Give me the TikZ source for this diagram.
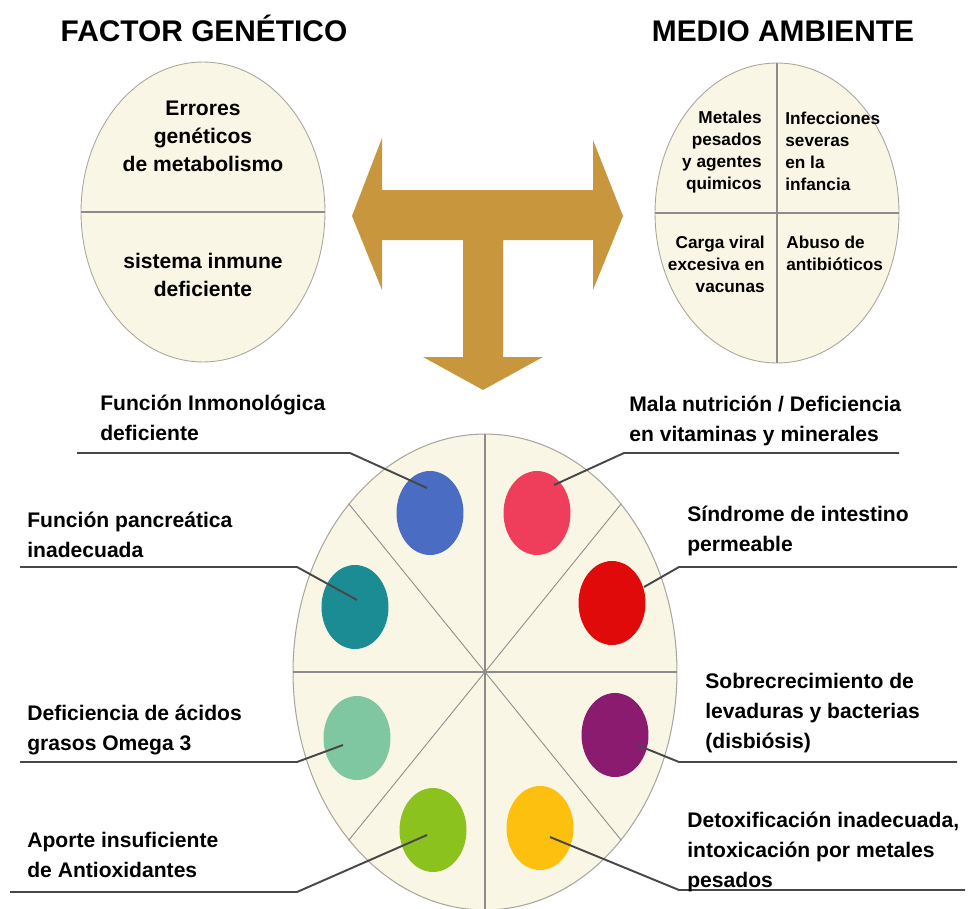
\documentclass[tikz,border=0pt]{standalone}
\usepackage{fontspec}
\setmainfont{Liberation Sans}
\usetikzlibrary{
	shapes.geometric,
	calc,
}
\definecolor{arrowgold}{HTML}{C8963C}
\definecolor{cream}{HTML}{FAF6E6}
\definecolor{edgegrey}{HTML}{A9A79C}
\definecolor{dotblue}{HTML}{4A6CC2}
\definecolor{dotteal}{HTML}{1B8C94}
\definecolor{dotsea}{HTML}{7FC7A0}
\definecolor{dotlime}{HTML}{8CC21E}
\definecolor{dotpink}{HTML}{EE3E5C}
\definecolor{dotred}{HTML}{E10A0A}
\definecolor{dotpurple}{HTML}{8A1B6E}
\definecolor{dotyellow}{HTML}{FDC00F}
\tikzset{factorbox/.style={
		% The shape:
		ellipse,
		% The size:
		minimum width=4.88cm, minimum height=6cm,
		% The border:
		draw=edgegrey, line width=0.5pt,
		% The filling:
		fill=cream,
}}
\tikzset{wheelbox/.style={
		% The shape:
		ellipse,
		% The size:
		minimum width=7.68cm, minimum height=9.52cm,
		% The border:
		draw=edgegrey, line width=0.6pt,
		% The filling:
		fill=cream,
}}
\tikzset{spot/.style={
		% The shape:
		ellipse,
		% The size:
		minimum width=1.34cm, minimum height=1.68cm, inner sep=0pt,
		% The filling:
		fill=#1,
}}
\tikzset{divider/.style={draw=black!45, line width=0.7pt}}
\tikzset{leader/.style={draw=black!72, line width=1.1pt}}
\tikzset{headtext/.style={anchor=base, inner sep=0pt,
		font=\fontsize{17}{20}\selectfont\bfseries}}
\tikzset{innertext/.style={inner sep=0pt, align=center,
		font=\fontsize{12}{15.9}\selectfont\bfseries}}
\tikzset{smalltext/.style={inner sep=0pt,
		font=\fontsize{9.8}{12.5}\selectfont\bfseries}}
\tikzset{causetext/.style={anchor=north west, align=left, inner sep=0pt,
		font=\fontsize{12}{17}\selectfont\bfseries}}
\begin{document}
\begin{tikzpicture}[x=0.02cm,y=-0.02cm]
	\useasboundingbox (0,0) rectangle (974,909);
	% titles
	\node[headtext] (tgen) at (204,42) {FACTOR GENÉTICO};
	\node[headtext] (tamb) at (783,42) {MEDIO AMBIENTE};
	% genetic factor
	\node[factorbox] (gen) at (203,212) {};
	\draw[divider] (gen.west) -- (gen.east);
	\node[innertext,anchor=north] (gen1) at (203,101) {Errores\\genéticos\\de metabolismo};
	\node[innertext,anchor=north] (gen2) at (203,253) {sistema inmune\\deficiente};
	% environment
	\node[factorbox] (amb) at (777,213) {};
	\draw[divider] (amb.north) -- (amb.south);
	\draw[divider] (amb.west) -- (amb.east);
	\node[smalltext,anchor=north east,align=right] (amb1) at (762,111) {Metales\\pesados\\y agentes\\quimicos};
	\node[smalltext,anchor=north west,align=left] (amb2) at (785,112) {Infecciones\\severas\\en la\\infancia};
	\node[smalltext,anchor=north east,align=right] (amb3) at (765,236) {Carga viral\\excesiva en\\vacunas};
	\node[smalltext,anchor=north west,align=left] (amb4) at (786,236) {Abuso de\\antibióticos};
	% T arrow
	\fill[arrowgold] (352,216) -- (382,138) -- (382,190) -- (593,190) -- (593,140) -- (623,216)
		-- (593,290) -- (593,240) -- (503,240) -- (503,357) -- (543,357) -- (483,390)
		-- (423,357) -- (463,357) -- (463,240) -- (382,240) -- (382,290) -- cycle;
	% wheel
	\node[wheelbox] (wh) at (485,672) {};
	\draw[divider] (wh.north) -- (wh.south);
	\draw[divider] (wh.west) -- (wh.east);
	\draw[divider,line width=0.5pt] (wh.51) -- (wh.231);
	\draw[divider,line width=0.5pt] (wh.129) -- (wh.309);
	% spots
	\node[spot=dotblue] (d1) at (430,513) {};
	\node[spot=dotteal] (d2) at (355,607) {};
	\node[spot=dotsea] (d3) at (357,738) {};
	\node[spot=dotlime] (d4) at (433,830) {};
	\node[spot=dotpink] (d5) at (537,513) {};
	\node[spot=dotred] (d6) at (612,603) {};
	\node[spot=dotpurple] (d7) at (615,735) {};
	\node[spot=dotyellow] (d8) at (540,828) {};
	% left causes
	\coordinate (e1) at (77,453);
	\coordinate (e2) at (20,567);
	\coordinate (e3) at (20,762);
	\coordinate (e4) at (10,892);
	\draw[leader] ($(d1)+(-3,-25)$) -- ($(e1)+(273,0)$) -- (e1);
	\draw[leader] ($(d2)+(2,-7)$) -- ($(e2)+(277,0)$) -- (e2);
	\draw[leader] ($(d3)+(-14,7)$) -- ($(e3)+(277,0)$) -- (e3);
	\draw[leader] ($(d4)+(-6,5)$) -- ($(e4)+(287,0)$) -- (e4);
	\node[causetext] (c1) at (100,395) {Función Inmonológica\\deficiente};
	\node[causetext] (c2) at (27,512) {Función pancreática\\inadecuada};
	\node[causetext] (c3) at (27,705) {Deficiencia de ácidos\\grasos Omega 3};
	\node[causetext] (c4) at (27,832) {Aporte insuficiente\\de Antioxidantes};
	% right causes
	\coordinate (e5) at (899,453);
	\coordinate (e6) at (957,567);
	\coordinate (e7) at (957,762);
	\coordinate (e8) at (965,890);
	\draw[leader] ($(d5)+(17,-28)$) -- ($(e5)+(-275,0)$) -- (e5);
	\draw[leader] ($(d6)+(32,-16)$) -- ($(e6)+(-278,0)$) -- (e6);
	\draw[leader] ($(d7)+(22,10)$) -- ($(e7)+(-278,0)$) -- (e7);
	\draw[leader] ($(d8)+(10,9)$) -- ($(e8)+(-286,0)$) -- (e8);
	\node[causetext] (c5) at (629,396) {Mala nutrición / Deficiencia\\en vitaminas y minerales};
	\node[causetext] (c6) at (687,506) {Síndrome de intestino\\permeable};
	\node[causetext] (c7) at (705,673) {Sobrecrecimiento de\\levaduras y bacterias\\(disbiósis)};
	\node[causetext] (c8) at (687,812) {Detoxificación inadecuada,\\intoxicación por metales\\pesados};
\end{tikzpicture}
\end{document}
